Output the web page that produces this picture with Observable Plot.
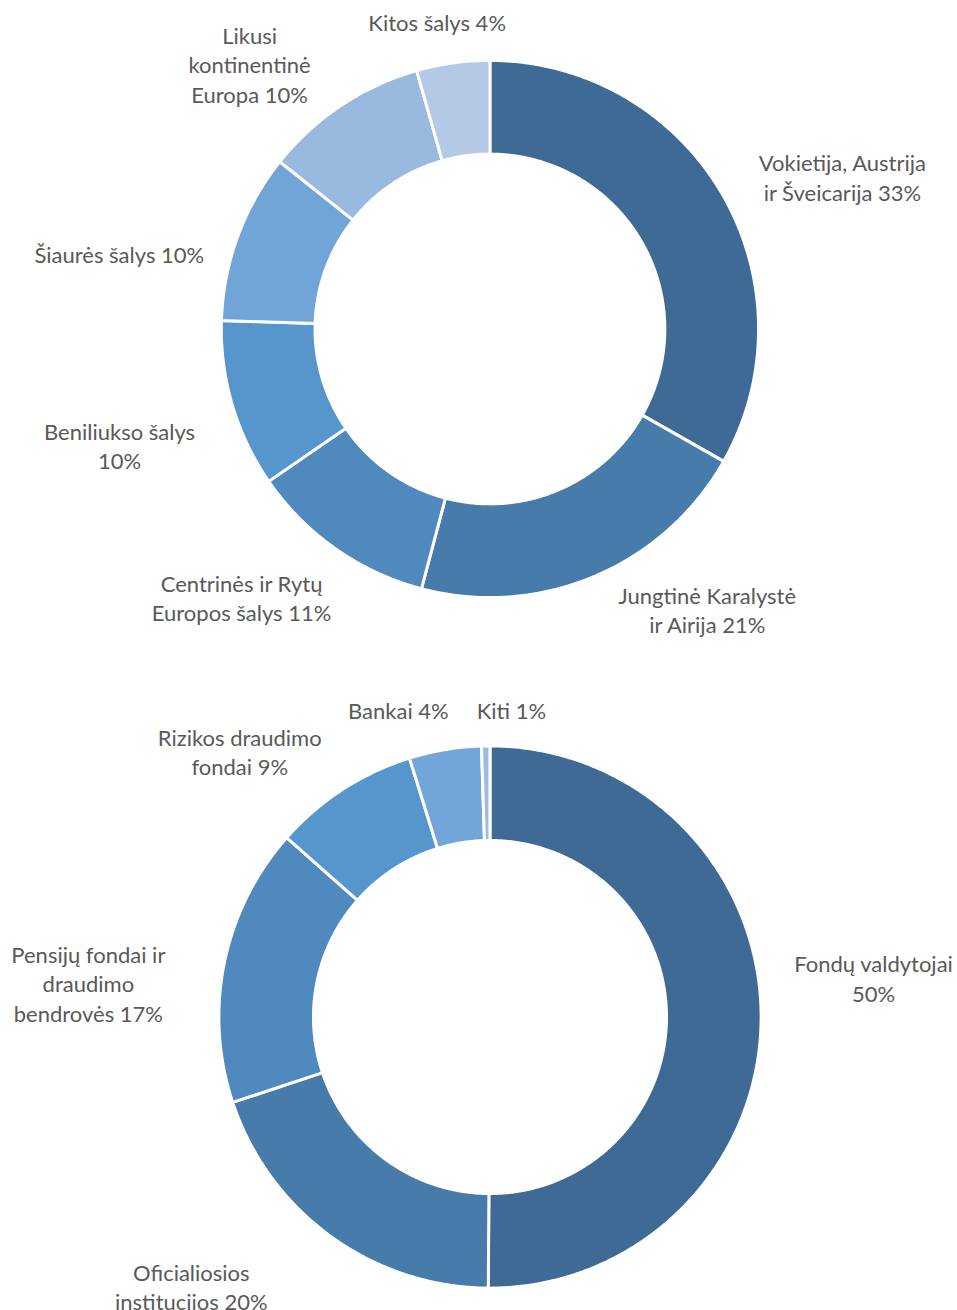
<!DOCTYPE html>
<html><head><meta charset="utf-8">
<script src="https://cdn.jsdelivr.net/npm/d3@7"></script>
<script src="https://cdn.jsdelivr.net/npm/@observablehq/plot@0.6"></script>
<style>
  html, body { margin: 0; padding: 0; background: #fff; }
  #chart svg { display: block; }
</style>
</head>
<body>
<div id="chart"></div>
<script>
// ---- Data: chart 1 (by region), clockwise from 12 o'clock ----
const regionNames = [
  "Vokietija, Austrija\nir Šveicarija 33%",
  "Jungtinė Karalystė\nir Airija 21%",
  "Centrinės ir Rytų\nEuropos šalys 11%",
  "Beniliukso šalys\n10%",
  "Šiaurės šalys 10%",
  "Likusi\nkontinentinė\nEuropa 10%",
  "Kitos šalys 4%"
];
const regionValues = [33.2, 20.9, 11.3, 10.1, 10.2, 9.9, 4.4];

// ---- Data: chart 2 (by investor type), clockwise from 12 o'clock ----
const investorNames = [
  "Fondų valdytojai\n50%",
  "Oficialiosios\ninstitucijos 20%",
  "Pensijų fondai ir\ndraudimo\nbendrovės 17%",
  "Rizikos draudimo\nfondai 9%",
  "Bankai 4%",
  "Kiti 1%"
];
const investorValues = [50.1, 19.8, 16.6, 8.7, 4.3, 0.5];

// ---- Styles ----
const regionColors = ["#3E6A95", "#477BAA", "#4F89BD", "#5796CC", "#72A5D7", "#99B9DF", "#B3C9E6"];
const investorColors = ["#3E6A95", "#477BAA", "#4F89BD", "#5796CC", "#72A6D8", "#9DBCE1"];

// ---- Layout (label placement in polar form: degrees clockwise from top, radius in outer radii) ----
const regionLabelAngle  = [66.9, 142.4, 222.6, 252.3, 281.2, 317.6, 350.2];
const regionLabelRadius = [1.435, 1.334, 1.374, 1.456, 1.415, 1.335, 1.161];
const investorLabelAngle  = [84.4, 227.8, 274.6, 316.5, 343.3, 4.0];
const investorLabelRadius = [1.430, 1.496, 1.495, 1.349, 1.183, 1.136];

const FONT = "Lato, 'Open Sans', sans-serif";
const FONT_SIZE = 22;
const LINE_H = 29.5 / FONT_SIZE;
const TEXT_COLOR = "#595959";

function ringPolygons(names, values, inner, outer) {
  const total = d3.sum(values);
  let acc = 0;
  const pts = [];
  names.forEach((name, i) => {
    const a0 = acc / total * 2 * Math.PI;
    acc += values[i];
    const a1 = acc / total * 2 * Math.PI;
    const n = Math.max(2, Math.ceil((a1 - a0) / (Math.PI / 360)));
    for (let k = 0; k <= n; k++) {
      const a = a0 + (a1 - a0) * k / n;
      pts.push({name, x: outer * Math.sin(a), y: outer * Math.cos(a)});
    }
    for (let k = n; k >= 0; k--) {
      const a = a0 + (a1 - a0) * k / n;
      pts.push({name, x: inner * Math.sin(a), y: inner * Math.cos(a)});
    }
  });
  return pts;
}

function labelPoints(names, angles, radii) {
  return names.map((name, i) => {
    const a = angles[i] * Math.PI / 180;
    return {name, x: radii[i] * Math.sin(a), y: radii[i] * Math.cos(a)};
  });
}

function donut({names, values, colors, angles, radii, height, xDomain, yDomain, inner}) {
  return Plot.plot({
    width: 957,
    height,
    margin: 0,
    style: {fontFamily: FONT, background: "white", overflow: "visible"},
    x: {domain: xDomain, axis: null},
    y: {domain: yDomain, axis: null},
    color: {domain: names, range: colors},
    marks: [
      Plot.line(ringPolygons(names, values, inner, 1.006), {
        x: "x", y: "y", z: "name", fill: "name",
        stroke: "white", strokeWidth: 3, curve: "linear-closed"
      }),
      Plot.text(labelPoints(names, angles, radii), {
        x: "x", y: "y", text: "name", dy: -2,
        fontSize: FONT_SIZE, lineHeight: LINE_H, fill: TEXT_COLOR,
        textAnchor: "middle", lineAnchor: "middle"
      })
    ]
  });
}

const chart = document.getElementById("chart");
chart.append(donut({
  names: regionNames, values: regionValues, colors: regionColors,
  angles: regionLabelAngle, radii: regionLabelRadius,
  height: 660, inner: 0.655,
  xDomain: [-1.833, 1.751], yDomain: [-1.2416, 1.2303]
}));
chart.append(donut({
  names: investorNames, values: investorValues, colors: investorColors,
  angles: investorLabelAngle, radii: investorLabelRadius,
  height: 650, inner: 0.655,
  xDomain: [-1.8163, 1.7347], yDomain: [-1.089, 1.3228]
}));
</script>
</body></html>
